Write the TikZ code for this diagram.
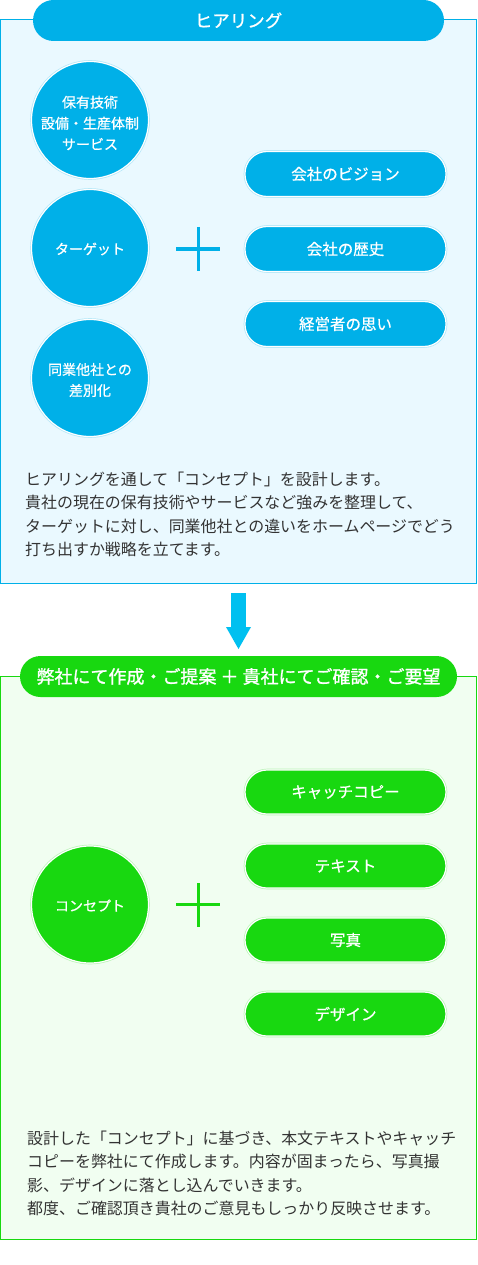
\documentclass[tikz,border=0pt]{standalone}
\usepackage{fontspec}
\setmainfont{Noto Sans CJK JP}
\newfontfamily\medfont{Noto Sans CJK JP}[FakeBold=0.8]
\newfontfamily\semifont{Noto Sans CJK JP}[FakeBold=1.2]
\definecolor{cyanA}{HTML}{00B0E8}
\definecolor{cyanBg}{HTML}{EAF9FF}
\definecolor{arrowC}{HTML}{00C0F0}
\definecolor{greenA}{HTML}{18D810}
\definecolor{greenBg}{HTML}{F1FEF1}
\definecolor{txt}{HTML}{333333}
\tikzset{
  header/.style={fill=#1, rounded corners=20.5pt, minimum height=41pt, inner sep=0pt, text=white, font=\medfont\fontsize{17.5}{20}\selectfont},
  ring/.style={preaction={draw=#1!30, line width=2.6pt}, draw=white, line width=1.2pt},
  bubble/.style={circle, fill=#1, ring=#1, minimum size=117pt, inner sep=0pt},
  bubbletext/.style={inner sep=0pt, text=white, align=center, font=\medfont\fontsize{14}{21}\selectfont},
  pill/.style={rectangle, fill=#1, ring=#1, rounded corners=22pt, minimum width=201pt, minimum height=45pt, inner sep=0pt, text=white, font=\medfont\fontsize{15.5}{18}\selectfont},
  bodyline/.style={anchor=west, inner sep=0pt, text=txt, font=\fontsize{15.95}{20}\selectfont},
  plusline/.style={draw=#1, line width=3pt},
}
\begin{document}
\begin{tikzpicture}[x=1pt,y=-1pt]
\useasboundingbox (0,0) rectangle (477,1265);
% ---------- top panel ----------
\draw[cyanA, fill=cyanBg, line width=1pt] (0.5,19.5) rectangle (476.5,583);
\node[header=cyanA, minimum width=411pt] (h1) at (238.5,20.5) {ヒアリング};
\node[bubble=cyanA] (c1) at (90,120) {};
\node[bubble=cyanA] (c2) at (90,248) {};
\node[bubble=cyanA] (c3) at (90,378) {};
\node[bubbletext] (c1t) at ([yshift=-3pt]c1.center) {保有技術\\設備・生産体制\\サービス};
\node[bubbletext] (c2t) at ([yshift=-1pt]c2.center) {ターゲット};
\node[bubbletext] (c3t) at ([yshift=-2pt]c3.center) {同業他社との\\差別化};
\coordinate (p1l) at (176,249); \coordinate (p1r) at (220,249);
\coordinate (p1t) at (198,227); \coordinate (p1b) at (198,271);
\draw[plusline=cyanA] (p1l) -- (p1r);
\draw[plusline=cyanA] (p1t) -- (p1b);
\node[pill=cyanA] (r1) at (345.5,174) {会社のビジョン};
\node[pill=cyanA] (r2) at (345.5,249) {会社の歴史};
\node[pill=cyanA] (r3) at (345.5,324) {経営者の思い};
\node[bodyline] (t1) at (25,479) {ヒアリングを通して「コンセプト」を設計します。};
\node[bodyline] (t2) at (25,502.5) {貴社の現在の保有技術やサービスなど強みを整理して、};
\node[bodyline] (t3) at (25,526) {ターゲットに対し、同業他社との違いをホームページでどう};
\node[bodyline] (t4) at (25,549.5) {打ち出すか戦略を立てます。};
% ---------- arrow ----------
\coordinate (a0) at (238.5,593);
\coordinate (a1) at (238.5,627);
\coordinate (a2) at (238.5,649);
\fill[arrowC] ([xshift=-7.5pt]a0) rectangle ([xshift=7.5pt]a1);
\fill[arrowC] ([xshift=-12.5pt]a1) -- ([xshift=12.5pt]a1) -- (a2) -- cycle;
% ---------- bottom panel ----------
\draw[greenA, fill=greenBg, line width=1pt] (0.5,676.5) rectangle (476.5,1239);
\node[header=greenA, minimum width=437pt, font=\semifont\fontsize{18}{20}\selectfont] (h2) at (238.5,676.5) {弊社にて作成・ご提案 ＋ 貴社にてご確認・ご要望};
\node[bubble=greenA] (c4) at (90,904.5) {};
\node[bubbletext] (c4t) at ([yshift=-1pt]c4.center) {コンセプト};
\coordinate (p2l) at (176,904.5); \coordinate (p2r) at (220,904.5);
\coordinate (p2t) at (198,883); \coordinate (p2b) at (198,927);
\draw[plusline=greenA] (p2l) -- (p2r);
\draw[plusline=greenA] (p2t) -- (p2b);
\node[pill=greenA, minimum height=44pt] (s1) at (345.5,792) {キャッチコピー};
\node[pill=greenA, minimum height=44pt] (s2) at (345.5,866) {テキスト};
\node[pill=greenA, minimum height=44pt] (s3) at (345.5,940) {写真};
\node[pill=greenA, minimum height=44pt] (s4) at (345.5,1014) {デザイン};
\node[bodyline] (u1) at (27,1138) {設計した「コンセプト」に基づき、本文テキストやキャッチ};
\node[bodyline] (u2) at (27,1161.5) {コピーを弊社にて作成します。内容が固まったら、写真撮};
\node[bodyline] (u3) at (27,1185) {影、デザインに落とし込んでいきます。};
\node[bodyline] (u4) at (27,1208.5) {都度、ご確認頂き貴社のご意見もしっかり反映させます。};
\end{tikzpicture}
\end{document}
